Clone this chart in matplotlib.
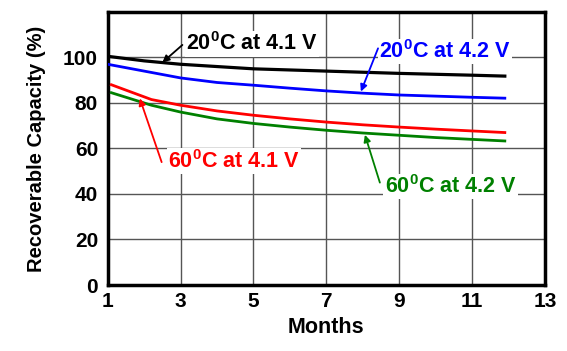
import matplotlib
matplotlib.use("Agg")
import matplotlib.pyplot as plt

FONT = "Liberation Sans"
plt.rcParams["font.family"] = FONT
plt.rcParams["font.weight"] = "bold"
plt.rcParams["axes.labelweight"] = "bold"
plt.rcParams["mathtext.fontset"] = "custom"
plt.rcParams["mathtext.rm"] = FONT + ":bold"
plt.rcParams["mathtext.default"] = "rm"

# data
months = [1, 2, 3, 4, 5, 6, 7, 8, 9, 10, 11, 11.9]
black_20c_41 = [100.5, 98.5, 97, 96, 95, 94.5, 94, 93.5, 93, 92.6, 92.2, 91.8]
blue_20c_42 = [97, 94, 91, 89, 87.8, 86.5, 85.3, 84.3, 83.5, 83, 82.5, 82.1]

months_60 = [1.1, 2.2, 3, 4, 5, 6, 7, 8, 9, 10, 11, 11.9]
red_60c_41 = [88, 81.5, 79, 76.5, 74.6, 73, 71.6, 70.4, 69.4, 68.5, 67.7, 67]
green_60c_42 = [84.5, 79, 76, 73, 71, 69.4, 68, 66.8, 65.8, 64.8, 64, 63.3]

x_ticks = [1, 3, 5, 7, 9, 11, 13]
y_ticks = [0, 20, 40, 60, 80, 100]

fig = plt.figure(figsize=(5.67, 3.51), dpi=100)
ax = fig.add_axes([0.19, 0.188, 0.771, 0.778])

ax.plot(months, black_20c_41, color="black", lw=2.3, zorder=3)
ax.plot(months, blue_20c_42, color="#0000ff", lw=2.0, zorder=3)
ax.plot(months_60, red_60c_41, color="#ff0000", lw=2.0, zorder=3)
ax.plot(months_60, green_60c_42, color="#008000", lw=2.0, zorder=3)

ax.set_xlim(1, 13)
ax.set_ylim(0, 120)
ax.set_xticks(x_ticks)
ax.set_yticks(y_ticks)
ax.grid(True, color="#555555", lw=1.0)
ax.tick_params(length=0, labelsize=15)
ax.tick_params(axis="y", pad=7)
ax.tick_params(axis="x", pad=5)
for s in ax.spines.values():
    s.set_linewidth(2.5)

ax.set_xlabel("Months", fontsize=15.5, labelpad=4)
ax.set_ylabel("Recoverable Capacity (%)", fontsize=14.5, labelpad=12)

# callouts: label, colour, text pos, arrow tail, arrow head
callouts = [
    ("20$^0$C at 4.1 V", "black", (3.15, 106), (3.05, 105.5), (2.5, 97.8)),
    ("20$^0$C at 4.2 V", "#0000ff", (8.45, 102.6), (8.42, 104), (7.95, 85)),
    ("60$^0$C at 4.1 V", "#ff0000", (2.65, 54.4), (2.48, 54), (1.88, 82)),
    ("60$^0$C at 4.2 V", "#008000", (8.6, 43.4), (8.47, 45), (8.06, 66)),
]
for label, col, tpos, tail, head in callouts:
    ax.text(tpos[0], tpos[1], label, color=col, fontsize=15.5, ha="left", va="center",
            zorder=4, bbox=dict(facecolor="white", edgecolor="none", pad=1))
    ax.annotate("", xy=head, xytext=tail, zorder=5,
                arrowprops=dict(arrowstyle="-|>", color=col, lw=1.3,
                                mutation_scale=10, shrinkA=0, shrinkB=0))

fig.savefig("out.png", dpi=100)
